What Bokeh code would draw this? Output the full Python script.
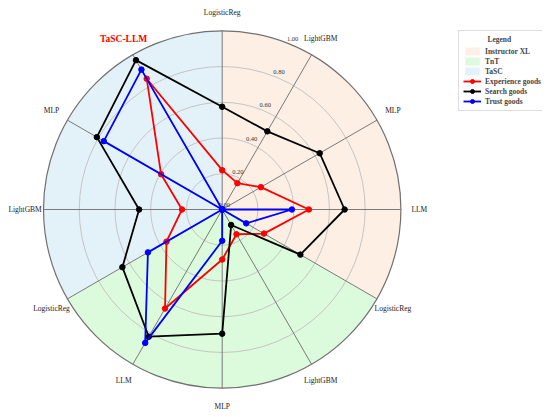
import numpy as np
from bokeh.plotting import figure
from bokeh.models import ColumnDataSource, Range1d, Legend, LegendItem
from bokeh.core.properties import value
from bokeh.embed import file_html
from bokeh.resources import INLINE

# ---- data ----
axis_labels = ["LogisticReg", "LightGBM", "MLP", "LLM",
               "LogisticReg", "LightGBM", "MLP", "LLM",
               "LogisticReg", "LightGBM", "MLP", "TaSC-LLM"]
groups = ["Instructor XL", "TnT", "TaSC"]
group_colors = ["#fdefe4", "#dcfadc", "#e3f1f8"]
series_names = ["Experience goods", "Search goods", "Trust goods"]
series_colors = ["#ff0000", "#000000", "#0000ff"]
experience = [0.22, 0.17, 0.25, 0.485, 0.27, 0.16, 0.28, 0.64, 0.36, 0.225, 0.395, 0.845]
search = [0.575, 0.505, 0.63, 0.685, 0.505, 0.10, 0.695, 0.822, 0.645, 0.465, 0.81, 0.965]
trust = [0.0, 0.0, 0.0, 0.39, 0.155, 0.0, 0.175, 0.862, 0.48, 0.0, 0.765, 0.904]
rticks = [0.0, 0.2, 0.4, 0.6, 0.8, 1.0]
highlight = "TaSC-LLM"

FONT = "Liberation Serif"
R_PX = 178.7
W, H = 542, 413
CX, CY = 221.7, 209.0

n = len(axis_labels)
theta = np.deg2rad(np.arange(n) * 360.0 / n)   # clockwise from top


def to_xy(r, th):
    return np.asarray(r) * np.sin(th), np.asarray(r) * np.cos(th)


p = figure(width=W, height=H, output_backend="svg", toolbar_location=None,
           x_range=Range1d(-CX / R_PX, (W - CX) / R_PX),
           y_range=Range1d(-(H - CY) / R_PX, CY / R_PX),
           min_border=0)
p.axis.visible = False
p.grid.visible = False
p.outline_line_color = None
p.background_fill_color = "white"

# group shading wedges
per = n // len(groups)
wedge_renderers = []
for gi, (g, c) in enumerate(zip(groups, group_colors)):
    th0 = gi * per * 2 * np.pi / n
    th1 = (gi + 1) * per * 2 * np.pi / n
    r = p.wedge(x=0, y=0, radius=1.0, start_angle=np.pi / 2 - th1,
                end_angle=np.pi / 2 - th0, fill_color=c, line_color=None)
    wedge_renderers.append(r)

# grid circles
inner = [t for t in rticks if 0 < t < 1]
p.circle(x=[0] * len(inner), y=[0] * len(inner), radius=inner,
         fill_color=None, line_color="#c4c4c4", line_width=1)

# spokes
sx, sy = to_xy(np.ones(n) * rticks[-1], theta)
p.segment(x0=np.zeros(n), y0=np.zeros(n), x1=sx, y1=sy,
          line_color="#7a7a7a", line_width=1)

# outer circle
p.circle(x=[0], y=[0], radius=[rticks[-1]], fill_color=None,
         line_color="#707070", line_width=1.2)

# radial tick labels
lab_th = np.deg2rad(22.5)
tx, ty = to_xy(np.array(rticks) + 0.03, lab_th)
p.text(x=tx, y=ty, text=[f"{t:.2f}" for t in rticks], text_font=value(FONT),
       text_font_size="6.5px", text_color="#333333", text_align="center",
       text_baseline="middle")

# series
series_renderers = []
for vals, col in zip([experience, search, trust], series_colors):
    x, y = to_xy(vals, theta)
    xc = np.append(x, x[0])
    yc = np.append(y, y[0])
    lr = p.line(xc, yc, line_color=col, line_width=1.8)
    sr = p.scatter(x, y, size=5.5, fill_color=col, line_color=col)
    series_renderers.append((lr, sr))

# axis labels
lx, ly = to_xy(np.ones(n) * 1.103, theta)
colors = ["#ff0000" if l == highlight else "#222222" for l in axis_labels]
styles = ["bold" if l == highlight else "normal" for l in axis_labels]
sizes = ["9.5px" if l == highlight else "7.5px" for l in axis_labels]
src = ColumnDataSource(dict(x=lx, y=ly, text=axis_labels, color=colors,
                            style=styles, size=sizes))
p.text(x="x", y="y", text="text", source=src, text_color="color",
       text_font_style="style", text_font_size="size",
       text_font=value(FONT), text_align="center", text_baseline="middle")

items = [LegendItem(label=g, renderers=[r]) for g, r in zip(groups, wedge_renderers)]
items += [LegendItem(label=s, renderers=list(rs)) for s, rs in zip(series_names, series_renderers)]
legend = Legend(items=items, title="\u00a0" * 13 + "Legend", location=(458, 302),
                label_text_font=FONT, label_text_font_size="7.5px",
                label_text_font_style="bold", title_text_font=FONT,
                title_text_font_size="7.5px", title_text_font_style="bold",
                glyph_height=10, glyph_width=18, label_height=10,
                label_standoff=4, spacing=0, padding=4, margin=0,
                title_standoff=2, border_line_color="#bbbbbb",
                background_fill_alpha=1.0)
p.add_layout(legend, "center")

open("out.html", "w").write(file_html(p, INLINE))
